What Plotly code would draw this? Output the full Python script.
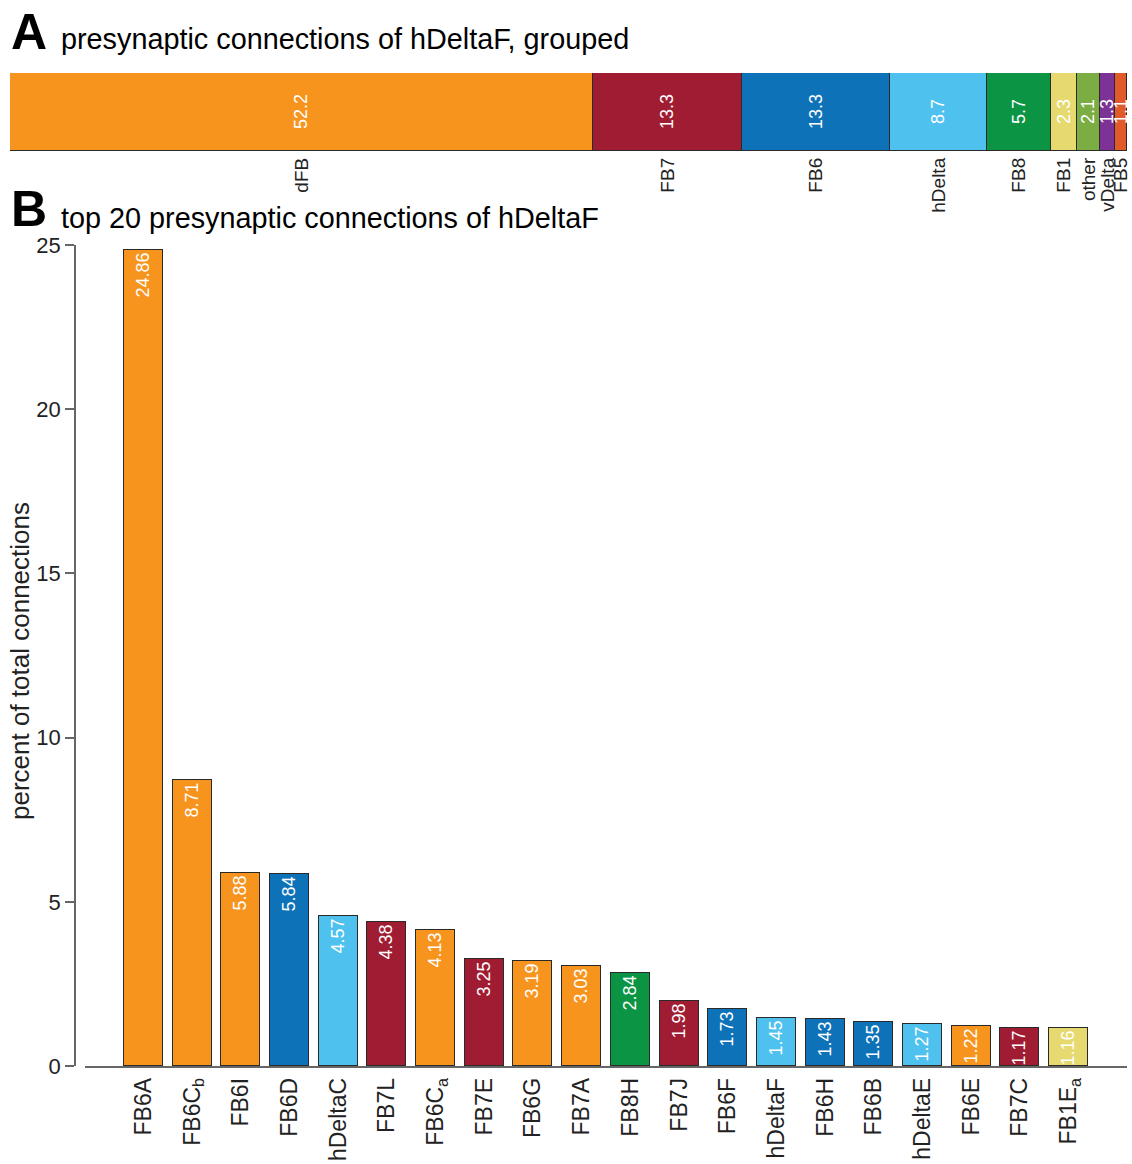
import plotly.graph_objects as go
import numpy as np

W, H = 1132, 1164

# ---------------- data ----------------
grp_names = ["dFB", "FB7", "FB6", "hDelta", "FB8", "FB1", "other", "vDelta", "FB5"]
grp_values = [52.2, 13.3, 13.3, 8.7, 5.7, 2.3, 2.1, 1.3, 1.1]

top_names = ["FB6A", "FB6C<sub>b</sub>", "FB6I", "FB6D", "hDeltaC", "FB7L", "FB6C<sub>a</sub>",
             "FB7E", "FB6G", "FB7A", "FB8H", "FB7J", "FB6F", "hDeltaF", "FB6H", "FB6B",
             "hDeltaE", "FB6E", "FB7C", "FB1E<sub>a</sub>"]
top_values = [24.86, 8.71, 5.88, 5.84, 4.57, 4.38, 4.13, 3.25, 3.19, 3.03, 2.84, 1.98,
              1.73, 1.45, 1.43, 1.35, 1.27, 1.22, 1.17, 1.16]
top_groups = ["dFB", "dFB", "dFB", "FB6", "hDelta", "FB7", "dFB", "FB7", "dFB", "dFB",
              "FB8", "FB7", "FB6", "hDelta", "FB6", "FB6", "hDelta", "dFB", "FB7", "FB1"]

y_ticks = [0, 5, 10, 15, 20, 25]

# ---------------- styles ----------------
colors = {
    "dFB": "#F7941E",
    "FB7": "#A01C32",
    "FB6": "#0E72B8",
    "hDelta": "#4EC1EE",
    "FB8": "#0B9444",
    "FB1": "#E6D970",
    "other": "#7BAD43",
    "vDelta": "#7D3295",
    "FB5": "#E15A2A",
}
FONT = "Liberation Sans, Arial, sans-serif"
EDGE = "#2a2a2a"
AXIS = "#666666"
TXT = "#222222"

def px_x(p):
    return p / W

def px_y(p):
    return 1 - p / H

fig = go.Figure()

# ---------------- panel A ----------------
for name, val in zip(grp_names, grp_values):
    fig.add_trace(go.Bar(
        x=[val], y=["g"], orientation="h", xaxis="x", yaxis="y",
        marker=dict(color=colors[name], line=dict(color=EDGE, width=1)),
        text=[f"{val:.1f}"], textposition="inside", textangle=-90,
        insidetextanchor="middle",
        textfont=dict(color="white", size=18, family=FONT),
        showlegend=False, hoverinfo="skip", cliponaxis=False,
    ))

cum = np.cumsum([0] + grp_values)
centers = [(cum[i] + cum[i + 1]) / 2 for i in range(len(grp_values))]

# ---------------- panel B ----------------
fig.add_trace(go.Bar(
    x=list(range(len(top_names))), y=top_values, xaxis="x2", yaxis="y2",
    width=0.8,
    marker=dict(color=[colors[g] for g in top_groups], line=dict(color=EDGE, width=1)),
    text=[f"{v:.2f}" for v in top_values], textposition="inside", textangle=-90,
    insidetextanchor="end",
    textfont=dict(color="white", size=18, family=FONT),
    showlegend=False, hoverinfo="skip",
))

fig.update_layout(
    template="none",
    width=W, height=H,
    margin=dict(l=0, r=0, t=0, b=0, autoexpand=False),
    paper_bgcolor="white", plot_bgcolor="white",
    barmode="stack", bargap=0,
    font=dict(family=FONT, color=TXT),
    uniformtext=dict(minsize=18, mode="show"),
    xaxis=dict(
        domain=[px_x(10), px_x(1127)], range=[0, sum(grp_values)],
        tickmode="array", tickvals=centers, ticktext=grp_names, tickangle=-90,
        tickfont=dict(size=19, family=FONT, color=TXT),
        ticks="", ticklabelstandoff=2, automargin=False,
        showgrid=False, zeroline=False, showline=False, anchor="y",
    ),
    yaxis=dict(
        domain=[px_y(151), px_y(73)], range=[-0.5, 0.5], automargin=False,
        showticklabels=False, showgrid=False, zeroline=False, showline=False,
        ticks="", anchor="x",
    ),
    xaxis2=dict(
        domain=[px_x(85), px_x(1127)], range=[-1.2, 20.2],
        tickmode="array", tickvals=list(range(len(top_names))), ticktext=top_names,
        tickangle=-90, tickfont=dict(size=23, family=FONT, color=TXT),
        ticks="", ticklabelstandoff=1, automargin=False,
        showline=True, linecolor=AXIS, linewidth=1.5,
        showgrid=False, zeroline=False, anchor="y2",
    ),
    yaxis2=dict(
        domain=[px_y(1066), px_y(245)], range=[0, 25],
        tickmode="array", tickvals=y_ticks, automargin=False,
        tickfont=dict(size=22, family=FONT, color=TXT),
        ticks="outside", ticklen=9, tickcolor=AXIS, tickwidth=1.5,
        showline=True, linecolor=AXIS, linewidth=1.5,
        showgrid=False, zeroline=False,
        anchor="free", position=px_x(75),
    ),
    annotations=[
        dict(text="<b>A</b>", x=px_x(9), y=px_y(32), xref="paper", yref="paper",
             xanchor="left", yanchor="middle", showarrow=False,
             font=dict(size=50, family=FONT, color="black")),
        dict(text="presynaptic connections of hDeltaF, grouped", x=px_x(59), y=px_y(39),
             xref="paper", yref="paper", xanchor="left", yanchor="middle", showarrow=False,
             font=dict(size=28.8, family=FONT, color="black")),
        dict(text="<b>B</b>", x=px_x(9), y=px_y(209), xref="paper", yref="paper",
             xanchor="left", yanchor="middle", showarrow=False,
             font=dict(size=50, family=FONT, color="black")),
        dict(text="top 20 presynaptic connections of hDeltaF", x=px_x(59), y=px_y(218),
             xref="paper", yref="paper", xanchor="left", yanchor="middle", showarrow=False,
             font=dict(size=28.8, family=FONT, color="black")),
        dict(text="percent of total connections", x=px_x(20), y=px_y(661),
             xref="paper", yref="paper", xanchor="center", yanchor="middle",
             textangle=-90, showarrow=False,
             font=dict(size=26, family=FONT, color=TXT)),
    ],
)

fig.write_html("out.html")
